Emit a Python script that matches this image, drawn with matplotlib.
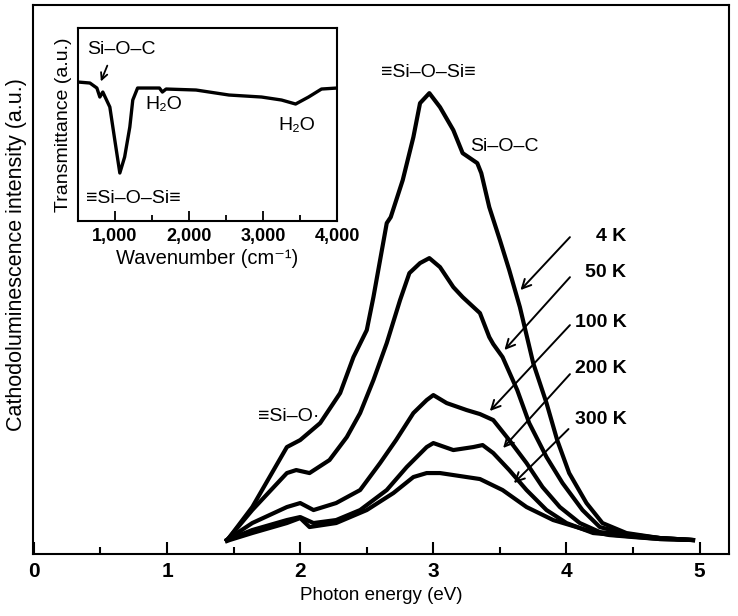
import matplotlib
matplotlib.use("Agg")
import matplotlib.pyplot as plt

plt.rcParams['font.family'] = ['Liberation Sans Narrow', 'Liberation Sans', 'DejaVu Sans']

# main spectra: photon energy (eV) vs intensity (a.u.)
e_4k = [1.45, 1.47, 1.64, 1.90, 2.00, 2.15, 2.30, 2.40, 2.50, 2.55, 2.65, 2.68, 2.77, 2.85, 2.90, 2.97,
        3.05, 3.15, 3.22, 3.33, 3.36, 3.42, 3.50, 3.57, 3.65, 3.75, 3.85, 3.93, 4.02, 4.15, 4.27, 4.45,
        4.70, 4.95]
i_4k = [14, 17, 47, 107, 114, 131, 161, 197, 224, 257, 331, 337, 374, 417, 451, 461,
        447, 424, 401, 391, 381, 347, 314, 284, 247, 191, 151, 114, 81, 51, 31, 21,
        16, 14]

e_50k = [1.45, 1.47, 1.64, 1.90, 1.97, 2.07, 2.22, 2.35, 2.45, 2.55, 2.65, 2.75, 2.82, 2.90, 2.97,
         3.05, 3.15, 3.22, 3.35, 3.42, 3.45, 3.52, 3.63, 3.72, 3.85, 3.97, 4.12, 4.25, 4.45, 4.70, 4.95]
i_50k = [14, 17, 44, 81, 84, 81, 94, 117, 141, 174, 211, 254, 281, 291, 296,
         287, 267, 257, 241, 217, 210, 197, 164, 131, 97, 71, 44, 27, 20, 16, 14]

e_100k = [1.45, 1.47, 1.64, 1.90, 2.00, 2.10, 2.27, 2.45, 2.60, 2.72, 2.85, 2.95, 3.00, 3.10, 3.25,
          3.35, 3.45, 3.57, 3.70, 3.82, 3.95, 4.10, 4.25, 4.45, 4.70, 4.95]
i_100k = [14, 16, 31, 47, 51, 44, 51, 64, 91, 114, 141, 154, 159, 151, 144,
          140, 134, 114, 91, 67, 47, 31, 22, 19, 16, 14]

e_200k = [1.45, 1.47, 1.64, 1.90, 2.00, 2.10, 2.27, 2.45, 2.65, 2.80, 2.95, 3.00, 3.15, 3.30, 3.37,
          3.45, 3.57, 3.70, 3.85, 4.00, 4.20, 4.45, 4.70, 4.95]
i_200k = [14, 15, 24, 34, 37, 31, 34, 44, 64, 87, 107, 111, 104, 107, 109,
          101, 84, 64, 44, 31, 21, 18, 15, 14]

e_300k = [1.45, 1.47, 1.64, 1.90, 2.00, 2.07, 2.27, 2.50, 2.70, 2.85, 2.95, 3.05, 3.20, 3.35,
          3.52, 3.70, 3.90, 4.15, 4.32, 4.50, 4.70, 4.95]
i_300k = [13, 14, 21, 31, 36, 27, 31, 44, 61, 77, 81, 81, 78, 75,
          64, 47, 34, 24, 19, 17, 15, 14]

# inset IR spectrum: wavenumber vs transmittance
wn = [500, 661, 755, 795, 835, 930, 997, 1065, 1130, 1200, 1240, 1305, 1600, 1640, 1690,
      2095, 2540, 2980, 3250, 3440, 3615, 3790, 4000]
tr = [139, 138, 133, 124, 129, 114, 81, 48, 64, 94, 121, 133, 133, 129, 132,
      131, 126, 124, 121, 117, 124, 132, 133]

temps = ['4 K', '50 K', '100 K', '200 K', '300 K']
label_pos = [(4.45, 318), (4.45, 282), (4.45, 232), (4.45, 186), (4.45, 135)]
arrow_tail = [(4.04, 319), (4.04, 279), (4.04, 231), (4.04, 182), (4.03, 127)]
arrow_head = [(3.64, 262), (3.52, 202), (3.41, 141), (3.51, 104), (3.59, 69)]

fig = plt.figure(figsize=(7.38, 6.16), dpi=100)
ax = fig.add_axes([0.0447, 0.1006, 0.943, 0.891])

for e, i in [(e_4k, i_4k), (e_50k, i_50k), (e_100k, i_100k), (e_200k, i_200k), (e_300k, i_300k)]:
    ax.plot(e, i, color='black', lw=3.0, solid_joinstyle='round')

ax.set_xlim(-0.007, 5.22)
ax.set_ylim(0, 549)
ax.set_xticks([0, 1, 2, 3, 4, 5])
ax.set_xticks([0.5, 1.5, 2.5, 3.5, 4.5], minor=True)
ax.set_yticks([])
ax.tick_params(axis='x', direction='in', length=9, width=1.5, labelsize=15, pad=6)
ax.tick_params(axis='x', which='minor', direction='in', length=5, width=1.5)
for lab in ax.get_xticklabels():
    lab.set_fontweight('bold')
for s in ax.spines.values():
    s.set_linewidth(1.5)
ax.set_xlabel('Photon energy (eV)', fontsize=13.5, labelpad=4)
ax.set_ylabel('Cathodoluminescence intensity (a.u.)', fontsize=15.5)
ax.yaxis.set_label_coords(-0.009, 0.545)

ax.text(2.965, 482, '≡Si–O–Si≡', fontsize=14, ha='center', va='center')
ax.text(3.53, 408, 'Si–O–C', fontsize=14, ha='center', va='center')
ax.text(1.91, 138, '≡Si–O·', fontsize=14, ha='center', va='center')

for t, lp, tail, head in zip(temps, label_pos, arrow_tail, arrow_head):
    ax.text(lp[0], lp[1], t, fontsize=14, ha='right', va='center', fontweight='bold')
    ax.annotate('', xy=head, xytext=tail,
                arrowprops=dict(arrowstyle='->', color='black', lw=1.4, mutation_scale=16))

# inset
ins = fig.add_axes([0.1057, 0.6412, 0.351, 0.3133])
ins.plot(wn, tr, color='black', lw=2.4)
ins.set_xlim(500, 4000)
ins.set_ylim(0, 193)
ins.set_xticks([1000, 2000, 3000, 4000])
ins.set_xticklabels(['1,000', '2,000', '3,000', '4,000'])
ins.set_xticks([1500, 2500, 3500], minor=True)
ins.set_yticks([])
ins.tick_params(axis='x', direction='in', length=7, width=1.3, labelsize=13, pad=5)
ins.tick_params(axis='x', which='minor', direction='in', length=4, width=1.3)
for lab in ins.get_xticklabels():
    lab.set_fontweight('bold')
for s in ins.spines.values():
    s.set_linewidth(1.5)
ins.set_xlabel('Wavenumber (cm⁻¹)', fontsize=14.5, labelpad=3)
ins.set_ylabel('Transmittance (a.u.)', fontsize=14, labelpad=4)

ins.text(1080, 172, 'Si–O–C', fontsize=14, ha='center', va='center')
ins.annotate('', xy=(795, 137), xytext=(910, 158),
             arrowprops=dict(arrowstyle='->', color='black', lw=1.3, mutation_scale=12))
ins.text(1660, 117, 'H₂O', fontsize=14, ha='center', va='center')
ins.text(3460, 96, 'H₂O', fontsize=14, ha='center', va='center')
ins.text(1250, 23, '≡Si–O–Si≡', fontsize=14, ha='center', va='center')

fig.savefig('out.png', dpi=100)
